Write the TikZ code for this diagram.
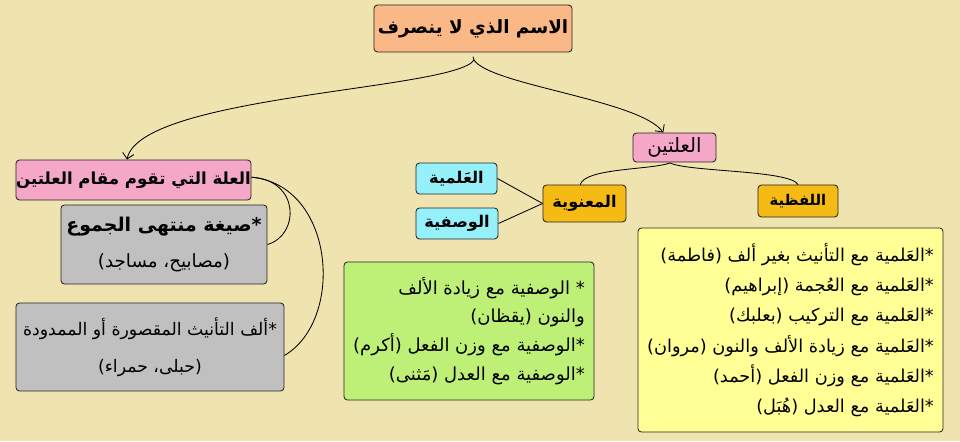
\documentclass[tikz,border=0pt]{standalone}
\usepackage{fontspec}
\usetikzlibrary{arrows.meta}
\newfontfamily\arabicfont[Script=Arabic]{DejaVu Sans}
\TeXXeTstate=1
\newcommand{\artxt}[1]{\beginR #1\endR}
\definecolor{bgcol}{RGB}{239,227,176}
\definecolor{peach}{RGB}{250,184,134}
\definecolor{pinkc}{RGB}{245,167,200}
\definecolor{grayc}{RGB}{192,192,192}
\definecolor{cyanc}{RGB}{150,240,250}
\definecolor{goldc}{RGB}{245,186,20}
\definecolor{greenc}{RGB}{190,240,120}
\definecolor{yellowc}{RGB}{255,255,150}
\tikzset{
  box/.style={draw=black!85, line width=0.6pt, rounded corners=2.5pt, inner sep=0pt},
  conn/.style={draw=black, line width=0.6pt},
  tip/.style={-{Straight Barb[length=4pt,width=8pt]}},
  fmid/.style={font=\arabicfont\bfseries\fontsize{11.5}{14}\selectfont},
}
\begin{document}
\begin{tikzpicture}[x=0.025cm,y=-0.025cm]
\fill[bgcol] (0,0) rectangle (960,441);
\useasboundingbox (0,0) rectangle (960,441);

\node[box, fill=peach, minimum width=4.95cm, minimum height=1.175cm, font=\arabicfont\bfseries\fontsize{13}{16}\selectfont] (top) at (473,28.5) {\artxt{الاسم الذي لا ينصرف}};
\node[box, fill=pinkc, minimum width=2.075cm, minimum height=0.725cm, font=\arabicfont\fontsize{14}{16}\selectfont] (illa) at (674.5,147.5) {\artxt{العلتين}};
\node[box, fill=pinkc, minimum width=5.875cm, minimum height=1.0cm, font=\arabicfont\bfseries\fontsize{11.8}{14}\selectfont] (qaim) at (133.5,180) {\artxt{العلة التي تقوم مقام العلتين}};
\node[box, fill=grayc, minimum width=5.15cm, minimum height=1.975cm, align=center, font=\arabicfont\fontsize{13}{25}\selectfont] (sigha) at (164,244.5) {{\bfseries\fontsize{13.5}{25}\selectfont\artxt{*صيغة منتهى الجموع}}\\\artxt{(مصابيح، مساجد)}};
\node[box, fill=grayc, minimum width=6.7cm, minimum height=2.2cm, align=center, font=\arabicfont\fontsize{12.3}{26}\selectfont] (alif) at (150,347) {\artxt{*ألف التأنيث المقصورة أو الممدودة}\\\artxt{(حبلى، حمراء)}};
\node[box, fill=cyanc, minimum width=2.025cm, minimum height=0.775cm, fmid] (alam) at (456.5,178.5) {\artxt{العَلمية}};
\node[box, fill=cyanc, minimum width=2.05cm, minimum height=0.775cm, fmid] (wasf) at (457,223.5) {\artxt{الوصفية}};
\node[box, fill=goldc, minimum width=2.075cm, minimum height=0.925cm, fmid] (manaw) at (584.5,203.5) {\artxt{المعنوية}};
\node[box, fill=goldc, minimum width=2.0cm, minimum height=0.8cm, font=\arabicfont\bfseries\fontsize{10.5}{12}\selectfont] (lafz) at (798,201) {\artxt{اللفظية}};
\node[box, fill=greenc, minimum width=6.25cm, minimum height=3.45cm, align=right, font=\arabicfont\fontsize{12.8}{20.5}\selectfont] (green) at (469,331) {\artxt{* الوصفية مع زيادة الألف}\\\artxt{والنون (يقظان)}\\\artxt{*الوصفية مع وزن الفعل (أكرم)}\\\artxt{*الوصفية مع العدل (مَثنى)}};
\node[box, fill=yellowc, minimum width=7.625cm, minimum height=5.1cm, align=right, font=\arabicfont\fontsize{12.6}{21.5}\selectfont] (yellow) at (790.5,330) {\artxt{*العَلمية مع التأنيث بغير ألف (فاطمة)}\\\artxt{*العَلمية مع العُجمة (إبراهيم)}\\\artxt{*العَلمية مع التركيب (بعلبك)}\\\artxt{*العَلمية مع زيادة الألف والنون (مروان)}\\\artxt{*العَلمية مع وزن الفعل (أحمد)}\\\artxt{*العَلمية مع العدل (هُبَل)}};

% connectors
\coordinate (split) at (474,60);
\draw[conn] ([yshift=-3pt]top.south) -- (split);
\draw[conn, tip] (split) .. controls (455,90) and (140,95) .. (qaim.north -| 127,0);
\draw[conn, tip] (split) .. controls (490,85) and (640,100) .. ([xshift=-8pt]illa.north);
\coordinate (isplit) at (670,163);
\draw[conn] (isplit) .. controls (650,170) and (585,168) .. ([xshift=-3pt]manaw.north);
\draw[conn] (isplit) .. controls (690,172) and (790,170) .. (lafz.north);
\draw[conn] (manaw.west) -- (alam.east);
\draw[conn] (manaw.west) -- (wasf.east);
\draw[conn] ([yshift=2pt]qaim.east) .. controls (300,180) and (300,235) .. (sigha.east);
\draw[conn] ([yshift=2pt]qaim.east) .. controls (335,185) and (345,320) .. ([yshift=-6pt]alif.east);
\end{tikzpicture}
\end{document}
